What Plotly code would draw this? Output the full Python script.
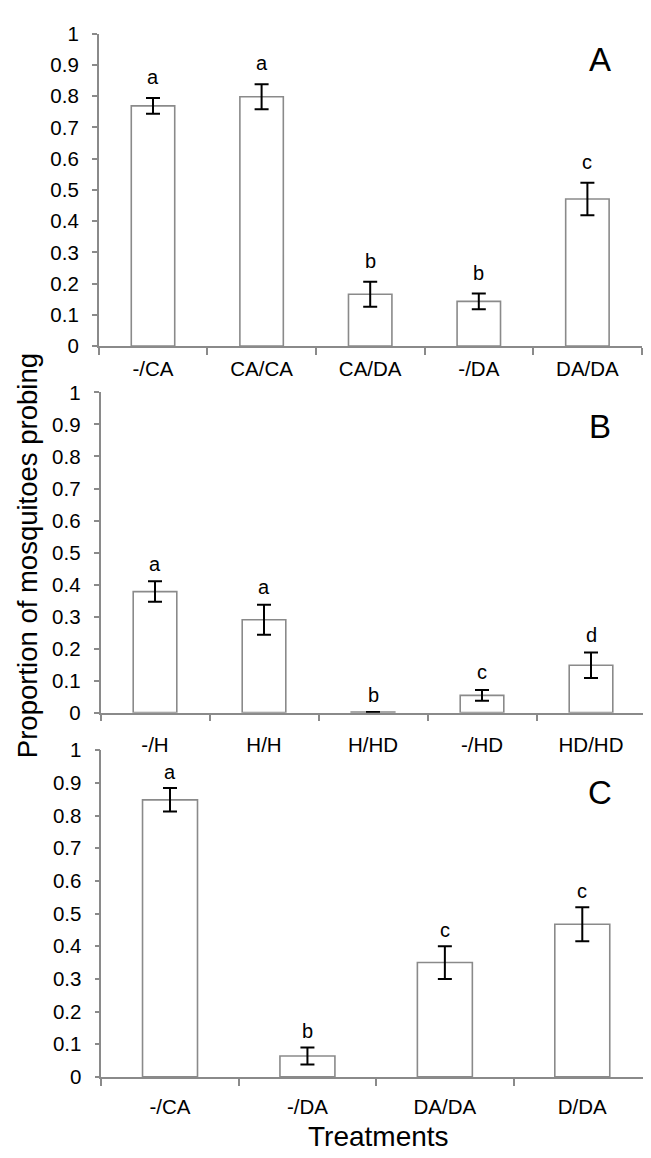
import plotly.graph_objects as go

# Panel A
cats_a = ["-/CA", "CA/CA", "CA/DA", "-/DA", "DA/DA"]
vals_a = [0.769, 0.798, 0.166, 0.143, 0.471]
errs_a = [0.025, 0.040, 0.040, 0.025, 0.052]
sig_a = ["a", "a", "b", "b", "c"]

# Panel B
cats_b = ["-/H", "H/H", "H/HD", "-/HD", "HD/HD"]
vals_b = [0.378, 0.290, 0.002, 0.054, 0.148]
errs_b = [0.032, 0.047, None, 0.017, 0.040]
sig_b = ["a", "a", "b", "c", "d"]

# Panel C
cats_c = ["-/CA", "-/DA", "DA/DA", "D/DA"]
vals_c = [0.848, 0.064, 0.350, 0.467]
errs_c = [0.036, 0.026, 0.050, 0.052]
sig_c = ["a", "b", "c", "c"]

panel_labels = ["A", "B", "C"]
y_ticks = [0, 0.1, 0.2, 0.3, 0.4, 0.5, 0.6, 0.7, 0.8, 0.9, 1]
y_ticktext = ["0", "0.1", "0.2", "0.3", "0.4", "0.5", "0.6", "0.7", "0.8", "0.9", "1"]
y_title = "Proportion of mosquitoes probing"
x_title = "Treatments"

FONT = "Liberation Sans, Arial, sans-serif"
W, H = 651, 1158
AXC = "#8a8a8a"

# (cats, vals, errs, sig, x-pixels, y-pixels(top=1, bottom=0), label standoff, letter shift, panel label y)
panels = [
    (cats_a, vals_a, errs_a, sig_a, (90.7, 633.7), (14, 332.7), 4, 8, 40),
    (cats_b, vals_b, errs_b, sig_b, (92.5, 637.5), (380, 706.7), 13, 4.5, 415),
    (cats_c, vals_c, errs_c, sig_c, (93.3, 643), (745, 1078.3), 11, 3, 788),
]

fig = go.Figure()
layout = {}
annotations = []
for i, (cats, vals, errs, sig, (x0, x1), (ytop, ybot), stand, lshift, ply) in enumerate(panels):
    n = "" if i == 0 else str(i + 1)
    fig.add_trace(go.Bar(
        x=cats, y=vals,
        xaxis="x" + n, yaxis="y" + n,
        marker=dict(color="white", line=dict(color=AXC, width=1.6)),
        error_y=dict(type="data", array=errs, visible=True, color="black", thickness=2, width=7),
        showlegend=False, hoverinfo="x+y",
    ))
    layout["xaxis" + n] = dict(
        domain=[x0 / W, x1 / W], anchor="y" + n, type="category",
        showline=True, linecolor=AXC, linewidth=1.6,
        ticks="outside", tickson="boundaries", ticklen=7, tickcolor=AXC, tickwidth=1.6,
        ticklabelstandoff=stand,
        tickfont=dict(family=FONT, size=20.5, color="black"),
        showgrid=False, zeroline=False, fixedrange=True,
    )
    layout["yaxis" + n] = dict(
        domain=[1 - ybot / H, 1 - ytop / H], anchor="x" + n,
        range=[0, 1], tickvals=y_ticks, ticktext=y_ticktext,
        showline=True, linecolor=AXC, linewidth=1.6,
        ticks="outside", ticklen=5, tickcolor=AXC, tickwidth=1.6,
        ticklabelstandoff=9,
        tickfont=dict(family=FONT, size=20.5, color="black"),
        showgrid=False, zeroline=False, fixedrange=True,
    )
    for c, v, e, s in zip(cats, vals, errs, sig):
        annotations.append(dict(
            x=c, y=v + (e or 0), xref="x" + n, yref="y" + n,
            text=s, showarrow=False, yanchor="bottom", yshift=lshift,
            font=dict(family=FONT, size=20, color="black"),
        ))
    annotations.append(dict(
        x=592 / W, y=1 - ply / H, xref="paper", yref="paper",
        text=panel_labels[i], showarrow=False, xanchor="center", yanchor="middle",
        font=dict(family=FONT, size=33, color="black"),
    ))

annotations.append(dict(
    x=19 / W, y=1 - 547 / H, xref="paper", yref="paper",
    text=y_title, textangle=-90, showarrow=False,
    xanchor="center", yanchor="middle",
    font=dict(family=FONT, size=27.5, color="black"),
))
annotations.append(dict(
    x=370 / W, y=1 - 1139 / H, xref="paper", yref="paper",
    text=x_title, showarrow=False, xanchor="center", yanchor="middle",
    font=dict(family=FONT, size=28, color="black"),
))

fig.update_layout(
    **layout,
    annotations=annotations,
    width=W, height=H,
    margin=dict(l=0, r=0, t=0, b=0),
    paper_bgcolor="white", plot_bgcolor="white",
    bargap=0.6,
    font=dict(family=FONT, color="black"),
)

fig.write_html("out.html")
